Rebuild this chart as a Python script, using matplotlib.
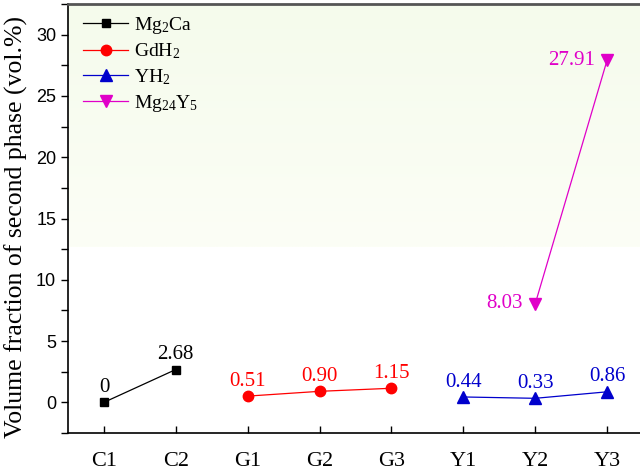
import numpy as np
import matplotlib
matplotlib.use("Agg")
import matplotlib.pyplot as plt
from matplotlib.ticker import MultipleLocator

plt.rcParams['font.family'] = ['Liberation Serif', 'DejaVu Serif']
plt.rcParams['mathtext.fontset'] = 'custom'
plt.rcParams['mathtext.rm'] = 'Liberation Serif'
plt.rcParams['mathtext.it'] = 'Liberation Serif:italic'

# sample names along the x axis
samples = ['C1', 'C2', 'G1', 'G2', 'G3', 'Y1', 'Y2', 'Y3']

# volume fraction of each second phase (vol.%)
mg2ca_x = ['C1', 'C2']
mg2ca = [0, 2.68]
mg2ca_txt = ['0', '2.68']

gdh2_x = ['G1', 'G2', 'G3']
gdh2 = [0.51, 0.90, 1.15]
gdh2_txt = ['0.51', '0.90', '1.15']

yh2_x = ['Y1', 'Y2', 'Y3']
yh2 = [0.44, 0.33, 0.86]
yh2_txt = ['0.44', '0.33', '0.86']

mg24y5_x = ['Y2', 'Y3']
mg24y5 = [8.03, 27.91]
mg24y5_txt = ['8.03', '27.91']

pos = {s: i for i, s in enumerate(samples)}

fig = plt.figure(figsize=(6.4, 4.76), dpi=100)
ax = fig.add_axes([68 / 640, 43 / 476, 575 / 640, 429 / 476])
ax.set_xlim(-0.5, 7.5)
ax.set_ylim(-2.5, 32.5)

# faint green wash in the upper part of the plot area
grad = np.linspace(0, 1, 100).reshape(-1, 1)
top_c = np.array([245, 251, 236]) / 255
bot_c = np.array([252, 254, 246]) / 255
img = top_c + (bot_c - top_c) * grad
ax.imshow(img[:, None, :].repeat(2, axis=1), extent=(-0.5, 7.5, 12.7, 32.5),
          aspect='auto', zorder=0, interpolation='bilinear')

series = [
    (mg2ca_x, mg2ca, mg2ca_txt, 'black', 's', 6, r'Mg$_2$Ca'),
    (gdh2_x, gdh2, gdh2_txt, '#ff0000', 'o', 7.5, r'GdH$_2$'),
    (yh2_x, yh2, yh2_txt, '#0000cc', '^', 8, r'YH$_2$'),
    (mg24y5_x, mg24y5, mg24y5_txt, '#e000c8', 'v', 8, r'Mg$_{24}$Y$_5$'),
]

for xs, ys, txt, col, mk, ms, lab in series:
    xp = [pos[s] for s in xs]
    ax.plot(xp, ys, color=col, marker=mk, markersize=ms, linewidth=0.9,
            label=lab, zorder=3)
    for x, y, t in zip(xp, ys, txt):
        if lab.startswith('Mg$_{24}'):
            ax.annotate(t, (x, y), xytext=(-9, 0), textcoords='offset points',
                        ha='right', va='center', color=col, fontsize=15)
        else:
            ax.annotate(t, (x, y), xytext=(0, 7.5), textcoords='offset points',
                        ha='center', va='baseline', color=col, fontsize=15)

ax.set_xticks(range(len(samples)))
ax.set_xticklabels(samples, fontsize=16)
ax.tick_params(axis='x', direction='in', length=5, width=1, pad=14)

ax.yaxis.set_major_locator(MultipleLocator(5))
ax.yaxis.set_minor_locator(MultipleLocator(2.5))
ax.tick_params(axis='y', which='both', direction='out', length=5, width=1)
for lbl in ax.get_yticklabels():
    lbl.set_fontfamily('Liberation Sans')
    lbl.set_fontsize(13)

ax.set_ylabel('Volume fraction of second phase (vol.%)', fontsize=18.5)
ax.yaxis.set_label_coords(-0.069, 0.48)

ax.spines['top'].set_color('#555555')
ax.spines['top'].set_linewidth(2)
ax.spines['right'].set_visible(False)
ax.spines['left'].set_linewidth(1.2)
ax.spines['bottom'].set_linewidth(1.2)

leg = ax.legend(loc='upper left', bbox_to_anchor=(0.008, 1.0), frameon=False,
                fontsize=14, handlelength=2.3, labelspacing=0.3,
                handletextpad=0.3, borderaxespad=0.15)

fig.savefig('out.png', dpi=100)
